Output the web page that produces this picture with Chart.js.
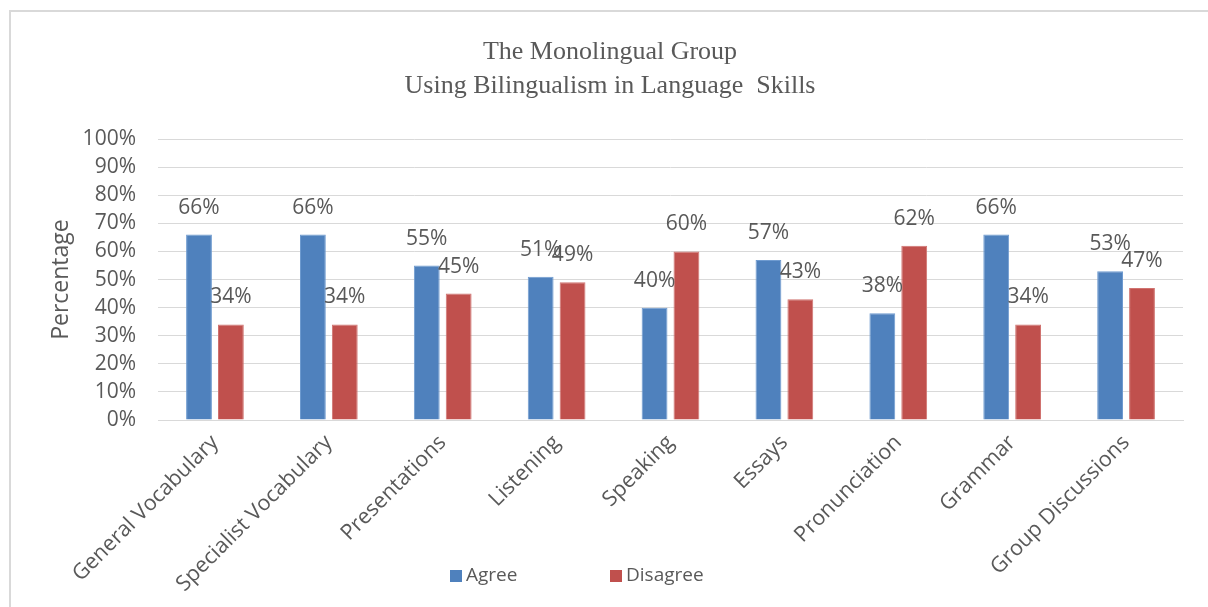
<!DOCTYPE html>
<html>
<head>
<meta charset="utf-8">
<script src="https://cdn.jsdelivr.net/npm/chart.js@4"></script>
<style>
  html, body { margin: 0; padding: 0; background: #fff; }
  #wrap { position: relative; width: 1208px; height: 607px; overflow: hidden; }
  #frame { position: absolute; left: 9px; top: 10px; width: 1220px; height: 620px; border: 2px solid #d9d9d9; box-sizing: border-box; }
  canvas { position: absolute; left: 0; top: 0; }
</style>
</head>
<body>
<div id="wrap">
  <div id="frame"></div>
  <canvas id="grafico" width="1208" height="607"></canvas>
</div>
<script>
const categorias = ['General Vocabulary', 'Specialist Vocabulary', 'Presentations', 'Listening', 'Speaking', 'Essays', 'Pronunciation', 'Grammar', 'Group Discussions'];
const concordam = [66, 66, 55, 51, 40, 57, 38, 66, 53];
const discordam = [34, 34, 45, 49, 60, 43, 62, 34, 47];
const nomesSeries = ['Agree', 'Disagree'];
const titulo = ['The Monolingual Group', 'Using Bilingualism in Language  Skills'];

const cinza = '#595959';
const fonte = "'Open Sans', sans-serif";

// rotulos de valor acima das barras
const rotulos = {
  id: 'rotulos',
  afterDatasetsDraw(chart) {
    const ctx = chart.ctx;
    ctx.save();
    ctx.font = `21px ${fonte}`;
    ctx.fillStyle = cinza;
    ctx.textAlign = 'center';
    ctx.textBaseline = 'middle';
    chart.data.datasets.forEach((ds, i) => {
      chart.getDatasetMeta(i).data.forEach((bar, j) => {
        ctx.fillText(ds.data[j] + '%', bar.x, bar.y - 27);
      });
    });
    ctx.restore();
  }
};

// legenda desenhada a mao (posicao como no original)
const legenda = {
  id: 'legenda',
  afterDraw(chart) {
    const ctx = chart.ctx;
    ctx.save();
    ctx.font = `19px ${fonte}`;
    ctx.textBaseline = 'middle';
    const caixa = 12, passo = 160;
    let x = 450;
    const y = 576;
    chart.data.datasets.forEach(d => {
      ctx.fillStyle = d.backgroundColor;
      ctx.fillRect(x, y - caixa / 2, caixa, caixa);
      ctx.fillStyle = cinza;
      ctx.fillText(d.label, x + caixa + 4, y);
      x += passo;
    });
    ctx.restore();
  }
};

new Chart(document.getElementById('grafico'), {
  type: 'bar',
  data: {
    labels: categorias,
    datasets: [
      { label: nomesSeries[0], data: concordam, backgroundColor: '#4F81BD', borderColor: '#6f9bd0', borderWidth: 1 },
      { label: nomesSeries[1], data: discordam, backgroundColor: '#C0504D', borderColor: '#d07370', borderWidth: 1 }
    ]
  },
  options: {
    responsive: false,
    animation: false,
    layout: { padding: { left: 37, right: 25, top: 0, bottom: 0 } },
    datasets: { bar: { categoryPercentage: 0.56, barPercentage: 0.81 } },
    plugins: {
      legend: { display: false },
      tooltip: { enabled: false },
      title: {
        display: true,
        text: titulo,
        color: cinza,
        font: { family: "'Liberation Serif', 'Times New Roman', serif", size: 26, weight: 'normal', lineHeight: 1.31 },
        padding: { top: 35, bottom: 36 }
      }
    },
    scales: {
      x: {
        grid: { display: false, drawTicks: false },
        border: { color: '#d9d9d9', width: 1 },
        ticks: { color: cinza, font: { family: fonte, size: 21.5 }, maxRotation: 45, minRotation: 45, padding: 10, autoSkip: false },
        afterFit(scale) { scale.height = 187; }
      },
      y: {
        min: 0,
        max: 100,
        grid: { color: '#d9d9d9', drawTicks: false },
        border: { display: false },
        ticks: { stepSize: 10, autoSkip: false, color: cinza, font: { family: fonte, size: 21 }, padding: 22, callback: v => v + '%' },
        title: { display: true, text: 'Percentage', color: cinza, font: { family: fonte, size: 23 }, padding: { top: 11, bottom: 0 } },
        afterFit(scale) { scale.width = 121; }
      }
    }
  },
  plugins: [rotulos, legenda]
});
</script>
</body>
</html>
